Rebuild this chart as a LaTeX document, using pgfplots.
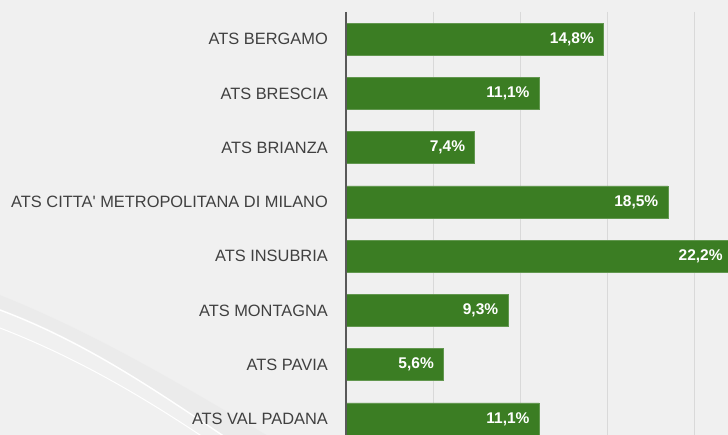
\documentclass[border=0pt]{standalone}
\usepackage{pgfplots}
\pgfplotsset{compat=1.18}
\usepackage{fontspec}
\setmainfont{Liberation Sans}
\definecolor{bargreen}{HTML}{3B7D23}
\definecolor{bgc}{HTML}{F0F0F0}
\definecolor{bandc}{HTML}{E8E8E8}
\definecolor{gridc}{HTML}{D9D9D9}
\definecolor{axisc}{HTML}{595959}
\definecolor{labc}{HTML}{404040}
\begin{document}
\begin{tikzpicture}
\fill[bgc] (0pt,0pt) rectangle (728pt,435pt);
\begin{scope}
\clip (0pt,0pt) rectangle (728pt,435pt);
% decorative background swooshes
\fill[bandc, opacity=0.5] (0pt,140pt) .. controls (100pt,100pt) and (190pt,45pt) .. (270pt,-2pt)
  -- (226pt,-2pt) .. controls (155pt,45pt) and (85pt,95pt) .. (0pt,126pt) -- cycle;
\draw[white, line width=1.4pt] (0pt,125pt) .. controls (85pt,93pt) and (155pt,45pt) .. (225pt,-2pt);
\draw[white, line width=1.0pt] (0pt,107pt) .. controls (75pt,78pt) and (140pt,40pt) .. (203pt,-2pt);
\begin{axis}[
  at={(346pt,-11pt)}, anchor=south west,
  scale only axis, width=435pt, height=434pt,
  xmin=0, xmax=25, ymin=-0.5, ymax=7.5,
  y dir=reverse,
  xbar, bar width=32pt,
  axis line style={draw=none},
  xtick={5,10,15,20,25}, xticklabels={},
  xmajorgrids, grid style={gridc, line width=1pt},
  major tick length=0pt,
  ytick={0,...,7},
  yticklabels={ATS BERGAMO, ATS BRESCIA, ATS BRIANZA, ATS CITTA\textquotesingle\ METROPOLITANA DI MILANO, ATS INSUBRIA, ATS MONTAGNA, ATS PAVIA, ATS VAL PADANA},
  y tick label style={font=\fontsize{16.4}{19}\selectfont, text=labc, anchor=east, inner sep=0pt, xshift=-18pt},
  tick style={draw=none},
  /pgf/number format/assume math mode=true,
  nodes near coords={\pgfmathprintnumber[fixed,fixed zerofill,precision=1,use comma,assume math mode=true]{\pgfplotspointmeta}\%},
  nodes near coords style={anchor=east, text=white, font=\bfseries\fontsize{15.5}{18}\selectfont, xshift=-6pt},
  clip=false,
]
\addplot[fill=bargreen, draw=bargreen!80!white, line width=0.6pt] coordinates {
  (14.8,0) (11.1,1) (7.4,2) (18.5,3) (22.2,4) (9.3,5) (5.6,6) (11.1,7)
};
\draw[axisc, line width=1.6pt] (axis cs:0,-0.5) -- (axis cs:0,7.5);
\end{axis}
\end{scope}
\pgfresetboundingbox
\useasboundingbox (0pt,0pt) rectangle (728pt,435pt);
\end{tikzpicture}
\end{document}
